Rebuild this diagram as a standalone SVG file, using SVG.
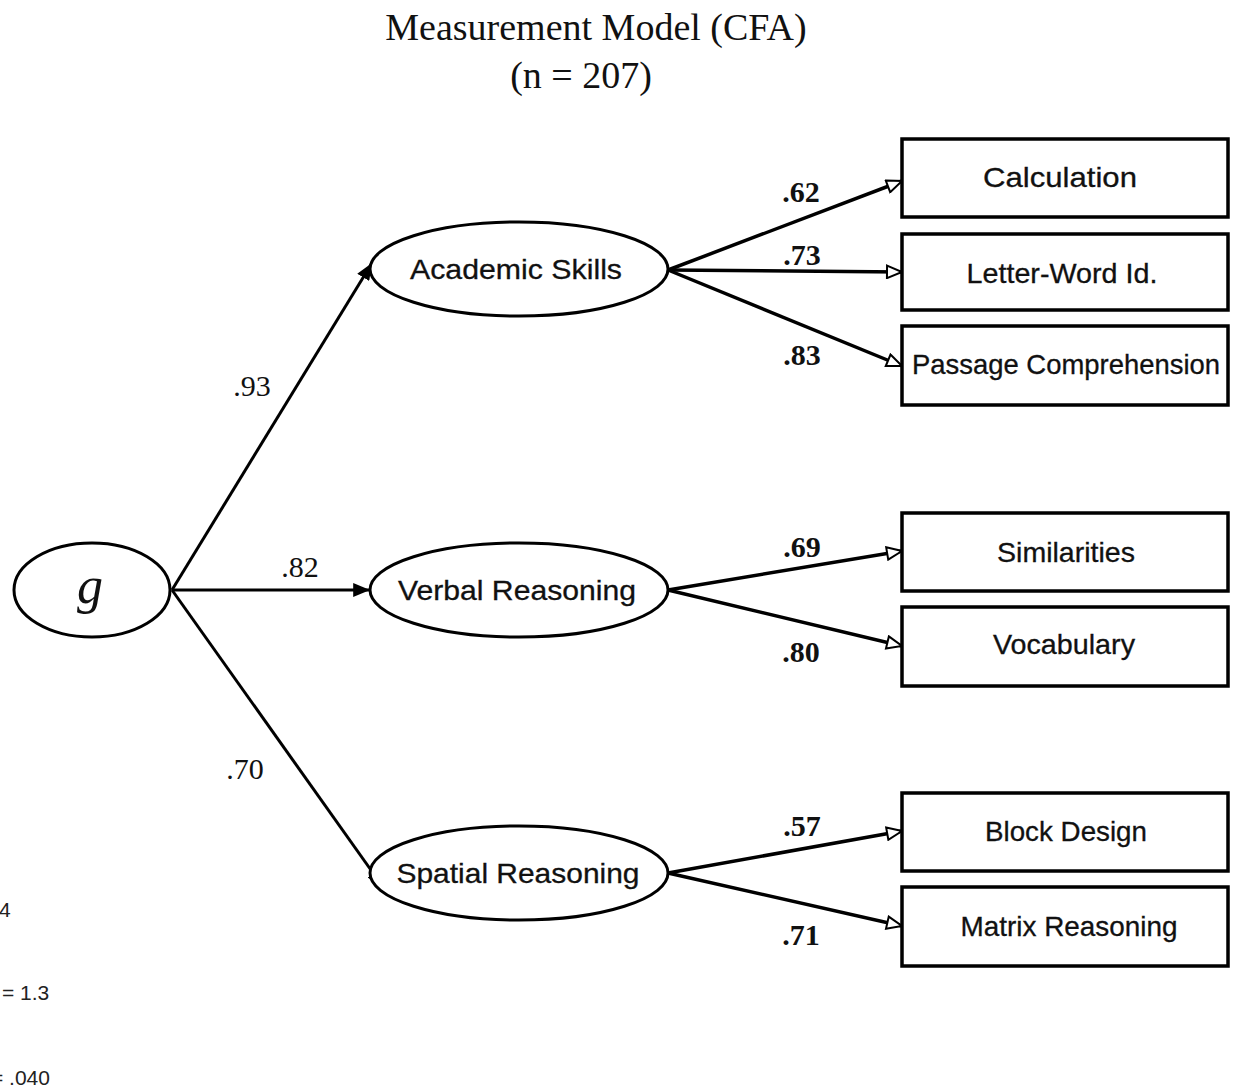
<svg xmlns="http://www.w3.org/2000/svg" width="1238" height="1090" viewBox="0 0 1238 1090">
<style>
.ttl{font-family:"Liberation Serif",serif;font-size:38px;fill:#111;text-anchor:middle}
.lat{fill:#fff;stroke:#000;stroke-width:3}
.box{fill:#fff;stroke:#000;stroke-width:3.5}
.nt{font-family:"Liberation Sans",Arial,sans-serif;font-size:28px;fill:#111;text-anchor:middle;stroke:#111;stroke-width:0.3}
.ld{font-family:"Liberation Serif",serif;font-size:30px;fill:#111;text-anchor:middle}
.ldb{font-family:"Liberation Serif",serif;font-size:30px;font-weight:bold;fill:#111;text-anchor:middle}
.a1{stroke:#000;stroke-width:3;fill:none;marker-end:url(#fill)}
.a2{stroke:#000;stroke-width:3.5;fill:none;marker-end:url(#open)}
.fr{font-family:"Liberation Sans",Arial,sans-serif;font-size:21px;fill:#222}
</style>
<defs>
<marker id="fill" viewBox="0 0 12 10" refX="12" refY="5" markerWidth="17" markerHeight="14" orient="auto" markerUnits="userSpaceOnUse">
<path d="M0,0 L12,5 L0,10 Z" fill="#000"/>
</marker>
<marker id="open" viewBox="0 0 14 12" refX="13" refY="6" markerWidth="18" markerHeight="15" orient="auto" markerUnits="userSpaceOnUse">
<path d="M1,1 L13,6 L1,11 Z" fill="#fff" stroke="#000" stroke-width="1.6"/>
</marker>
</defs>
<text class="ttl" x="596" y="40">Measurement Model (CFA)</text>
<text class="ttl" x="581" y="88">(n = 207)</text>

<g id="connectors">
<line class="a1" x1="172" y1="590" x2="372" y2="263"/>
<line class="a1" x1="172" y1="590" x2="370" y2="590"/>
<line class="a1" x1="172" y1="590" x2="383" y2="887"/>
<line class="a2" x1="668" y1="270" x2="902" y2="181"/>
<line class="a2" x1="668" y1="270" x2="902" y2="272"/>
<line class="a2" x1="668" y1="270" x2="902" y2="366"/>
<line class="a2" x1="668" y1="590" x2="902" y2="551"/>
<line class="a2" x1="668" y1="590" x2="902" y2="646"/>
<line class="a2" x1="668" y1="873" x2="902" y2="831"/>
<line class="a2" x1="668" y1="873" x2="902" y2="926"/>
<text class="ld" x="252" y="396">.93</text>
<text class="ld" x="300" y="577">.82</text>
<text class="ld" x="245" y="779">.70</text>
<text class="ldb" x="801" y="202">.62</text>
<text class="ldb" x="802" y="265">.73</text>
<text class="ldb" x="802" y="365">.83</text>
<text class="ldb" x="802" y="557">.69</text>
<text class="ldb" x="801" y="662">.80</text>
<text class="ldb" x="802" y="836">.57</text>
<text class="ldb" x="801" y="945">.71</text>
</g>

<g id="g"><ellipse class="lat" cx="92" cy="590" rx="78" ry="47"/><text x="90" y="603" font-family="Liberation Serif,serif" font-style="italic" font-size="52" text-anchor="middle" fill="#111">g</text></g>
<g id="academic"><ellipse class="lat" cx="519" cy="269" rx="149" ry="47"/><text class="nt" x="516" y="279" textLength="212" lengthAdjust="spacingAndGlyphs">Academic Skills</text></g>
<g id="verbal"><ellipse class="lat" cx="519" cy="590" rx="149" ry="47"/><text class="nt" x="517" y="600" textLength="238" lengthAdjust="spacingAndGlyphs">Verbal Reasoning</text></g>
<g id="spatial"><ellipse class="lat" cx="519" cy="873" rx="149" ry="47"/><text class="nt" x="518" y="883" textLength="243" lengthAdjust="spacingAndGlyphs">Spatial Reasoning</text></g>

<g id="calculation"><rect class="box" x="902" y="139" width="326" height="78"/><text class="nt" x="1060" y="187" textLength="154" lengthAdjust="spacingAndGlyphs">Calculation</text></g>
<g id="letterword"><rect class="box" x="902" y="234" width="326" height="76"/><text class="nt" x="1062" y="283" textLength="191" lengthAdjust="spacingAndGlyphs">Letter-Word Id.</text></g>
<g id="passage"><rect class="box" x="902" y="326" width="326" height="79"/><text class="nt" x="1066" y="374" textLength="308" lengthAdjust="spacingAndGlyphs">Passage Comprehension</text></g>
<g id="similarities"><rect class="box" x="902" y="513" width="326" height="78"/><text class="nt" x="1066" y="562" textLength="138" lengthAdjust="spacingAndGlyphs">Similarities</text></g>
<g id="vocabulary"><rect class="box" x="902" y="607" width="326" height="79"/><text class="nt" x="1064" y="654" textLength="142" lengthAdjust="spacingAndGlyphs">Vocabulary</text></g>
<g id="blockdesign"><rect class="box" x="902" y="793" width="326" height="78"/><text class="nt" x="1066" y="841" textLength="162" lengthAdjust="spacingAndGlyphs">Block Design</text></g>
<g id="matrix"><rect class="box" x="902" y="887" width="326" height="79"/><text class="nt" x="1069" y="936" textLength="217" lengthAdjust="spacingAndGlyphs">Matrix Reasoning</text></g>

<text class="fr" x="-1" y="917">4</text>
<text class="fr" x="2" y="1000">= 1.3</text>
<text class="fr" x="-9" y="1085">= .040</text>
</svg>
